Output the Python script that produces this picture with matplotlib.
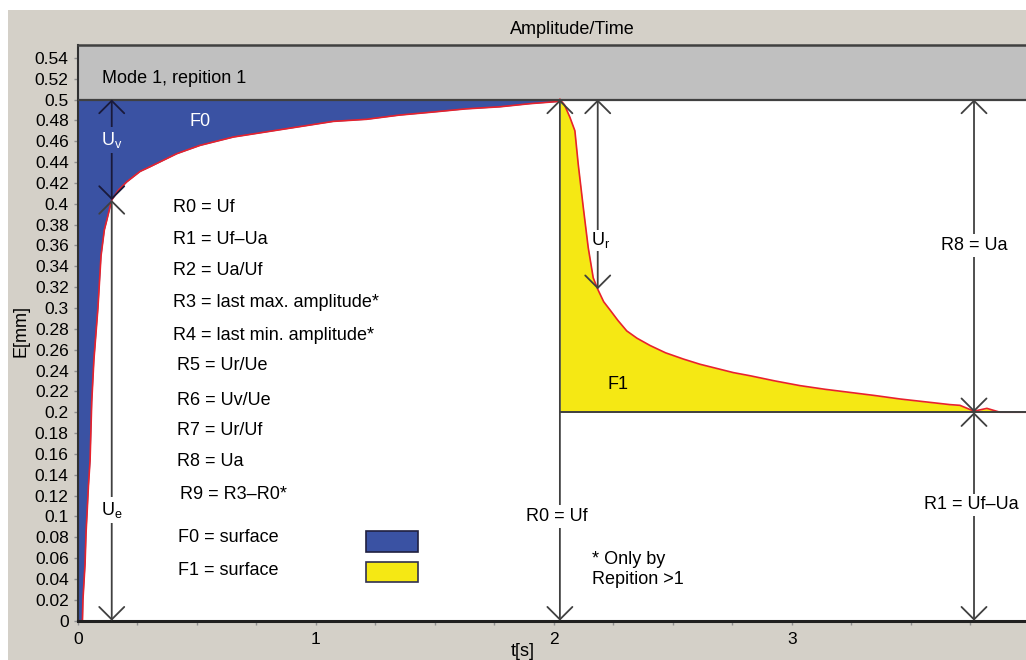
import matplotlib
matplotlib.use('Agg')
import matplotlib.pyplot as plt
from matplotlib.patches import Rectangle
from matplotlib.ticker import MultipleLocator, FuncFormatter

plt.rcParams['font.family'] = ['Liberation Sans', 'DejaVu Sans']
plt.rcParams['mathtext.fontset'] = 'custom'
plt.rcParams['mathtext.rm'] = 'Liberation Sans'
plt.rcParams['mathtext.it'] = 'Liberation Sans:italic'

# ---------------- data ----------------
# rising phase (F0 region lies between this curve and Uf)
t_rise = [0.0, 0.02, 0.022, 0.031, 0.035, 0.040, 0.045, 0.052, 0.059, 0.068,
          0.085, 0.098, 0.112, 0.122, 0.143, 0.171, 0.206, 0.262, 0.304, 0.416,
          0.514, 0.654, 0.794, 0.934, 1.074, 1.214, 1.35, 1.494, 1.63, 1.774,
          1.90, 2.013, 2.026]
e_rise = [0.0, 0.0, 0.02, 0.055, 0.084, 0.106, 0.129, 0.154, 0.21, 0.25,
          0.30, 0.35, 0.375, 0.384, 0.4036, 0.413, 0.421, 0.431, 0.4355, 0.448,
          0.456, 0.464, 0.469, 0.474, 0.479, 0.481, 0.485, 0.488, 0.491, 0.493,
          0.496, 0.498, 0.5]
# relaxation phase (F1 region lies between this curve and Ua)
t_decay = [2.026, 2.045, 2.068, 2.089, 2.103, 2.124, 2.145, 2.166, 2.185, 2.21,
           2.237, 2.27, 2.307, 2.35, 2.405, 2.47, 2.545, 2.615, 2.685, 2.755,
           2.825, 2.93, 3.035, 3.14, 3.245, 3.35, 3.455, 3.56, 3.665, 3.707,
           3.766, 3.82, 3.875, 3.984]
e_decay = [0.5, 0.495, 0.483, 0.470, 0.438, 0.397, 0.358, 0.329, 0.318, 0.306,
           0.298, 0.288, 0.278, 0.271, 0.264, 0.257, 0.251, 0.246, 0.242, 0.238,
           0.235, 0.230, 0.2255, 0.222, 0.219, 0.216, 0.2127, 0.210, 0.2073, 0.2066,
           0.201, 0.2037, 0.2, 0.2]

U_f = 0.5          # final amplitude
U_a = 0.2          # residual amplitude
U_e = 0.4036       # elastic part boundary
U_r_end = 0.318    # end of Ur
t_f = 2.026        # time of Uf
t_e = 0.143        # time of Ue/Uv markers
t_r = 2.185        # time of Ur marker
t_a = 3.766        # time of Ua marker

x_major = [0, 1, 2, 3]
formulas = ["R0 = Uf", "R1 = Uf\u2013Ua", "R2 = Ua/Uf", "R3 = last max. amplitude*",
            "R4 = last min. amplitude*", "R5 = Ur/Ue", "R6 = Uv/Ue", "R7 = Ur/Uf",
            "R8 = Ua", "R9 = R3\u2013R0*", "F0 = surface", "F1 = surface"]

# ---------------- layout ----------------
BG = '#d4d0c8'
BLUE = '#3a52a3'
YELLOW = '#f5e814'
RED = '#e8222c'
LINE = '#404040'

formula_x = [0.402, 0.402, 0.402, 0.402, 0.402, 0.416, 0.416, 0.416, 0.416, 0.43, 0.421, 0.421]
formula_y = [0.396, 0.366, 0.3357, 0.305, 0.2733, 0.245, 0.211, 0.182, 0.153, 0.1206, 0.0799, 0.0479]

W, H = 1026, 660
fig = plt.figure(figsize=(W / 100, H / 100), dpi=100, facecolor='white')
fig.add_artist(Rectangle((8 / W, 0), 1, 1 - 10 / H, transform=fig.transFigure,
                         facecolor=BG, edgecolor='none', zorder=-5))

ax = fig.add_axes([77.7 / W, 1 - 620.7 / H, 1 - 77.7 / W, (620.7 - 44.5) / H])
ax.set_facecolor('white')
ymax = (620.7 - 44.5) / 1042.4
xmax = (W - 77.7) / 238.0
ax.set_xlim(0, xmax)
ax.set_ylim(0, ymax)

# gray header band
ax.axhspan(U_f, ymax, color='#c0c0c0', zorder=0.5, lw=0)

# fills
ax.fill_between(t_rise, e_rise, U_f, color=BLUE, lw=0, zorder=1)
ax.fill_between(t_decay, e_decay, U_a, color=YELLOW, lw=0, zorder=1)
ax.plot(t_rise, e_rise, color=RED, lw=1.2, zorder=2)
ax.plot(t_decay, e_decay, color=RED, lw=1.2, zorder=2)

# reference lines
ax.axhline(U_f, color=LINE, lw=1.6, zorder=3)
ax.plot([t_f, xmax], [U_a, U_a], color=LINE, lw=1.4, zorder=3)

def dim(x, y0, y1, color=LINE):
    ax.annotate('', xy=(x, y1), xytext=(x, y0),
                arrowprops=dict(arrowstyle='<->,head_length=0.45,head_width=0.45',
                                color=color, lw=1.3, shrinkA=0, shrinkB=0,
                                mutation_scale=20), zorder=3)

dim(t_e, U_e, U_f, color='#1a1a3a')
dim(t_e, 0, U_e)
dim(t_f, 0, U_f)
dim(t_r, U_r_end, U_f)
dim(t_a, U_a, U_f)
dim(t_a, 0, U_a)

fs = 13
def label(x, y, s, bg='white', color='black', pad=2):
    ax.text(x, y, s, ha='center', va='center', fontsize=fs, color=color, zorder=4,
            bbox=dict(facecolor=bg, edgecolor='none', pad=pad))

label(t_e, 0.4612, r'U$_\mathrm{v}$', bg=BLUE, color='white')
label(t_e, 0.106, r'U$_\mathrm{e}$')
label(t_r + 0.012, 0.365, r'U$_\mathrm{r}$', pad=0.5)
label(t_f - 0.015, 0.100, 'R0 = Uf')
label(t_a, 0.360, 'R8 = Ua')
label(t_a - 0.01, 0.111, 'R1 = Uf\u2013Ua')

ax.text(0.514, 0.4787, 'F0', color='white', fontsize=fs, ha='center', va='center', zorder=4)
ax.text(2.271, 0.2269, 'F1', color='black', fontsize=fs, ha='center', va='center', zorder=4)
ax.text(0.101, 0.520, 'Mode 1, repition 1', fontsize=fs, ha='left', va='center', zorder=4)
ax.text(2.159, 0.049, '* Only by\nRepition >1', fontsize=fs, ha='left', va='center',
        linespacing=1.25, zorder=4)

for s, x, y in zip(formulas, formula_x, formula_y):
    ax.text(x, y, s, fontsize=fs, ha='left', va='center', zorder=4)

# legend swatches
ax.add_patch(Rectangle((1.213, 0.0662), 0.217, 0.0201, facecolor=BLUE,
                       edgecolor='#202040', lw=1.2, zorder=4))
ax.add_patch(Rectangle((1.213, 0.0369), 0.217, 0.0198, facecolor=YELLOW,
                       edgecolor='#303050', lw=1.2, zorder=4))

# axes styling
ax.set_xticks(x_major)
ax.xaxis.set_minor_locator(MultipleLocator(0.25))
ax.yaxis.set_major_locator(MultipleLocator(0.02))
ax.yaxis.set_major_formatter(FuncFormatter(lambda v, p: '{:g}'.format(round(v, 2))))
ax.tick_params(axis='both', which='both', direction='out', length=3, width=1,
               color='#909090', labelsize=12.5, pad=3.5)
ax.tick_params(axis='x', which='major', pad=5)

ax.spines['right'].set_visible(False)
ax.spines['top'].set_color(LINE)
ax.spines['top'].set_linewidth(1.8)
ax.spines['bottom'].set_color('#202020')
ax.spines['bottom'].set_linewidth(2.2)
ax.spines['left'].set_color('#303030')
ax.spines['left'].set_linewidth(1.5)
ax.spines['left'].set_linestyle((0, (1.5, 1)))

fig.text(572 / W, 1 - 30 / H, 'Amplitude/Time', ha='center', va='center', fontsize=fs)
fig.text(523 / W, 1 - 651.7 / H, 't[s]', ha='center', va='center', fontsize=fs)
fig.text(21 / W, 1 - 331 / H, 'E[mm]', ha='center', va='center', fontsize=fs, rotation=90)

fig.savefig('out.png', dpi=100, facecolor='white')
